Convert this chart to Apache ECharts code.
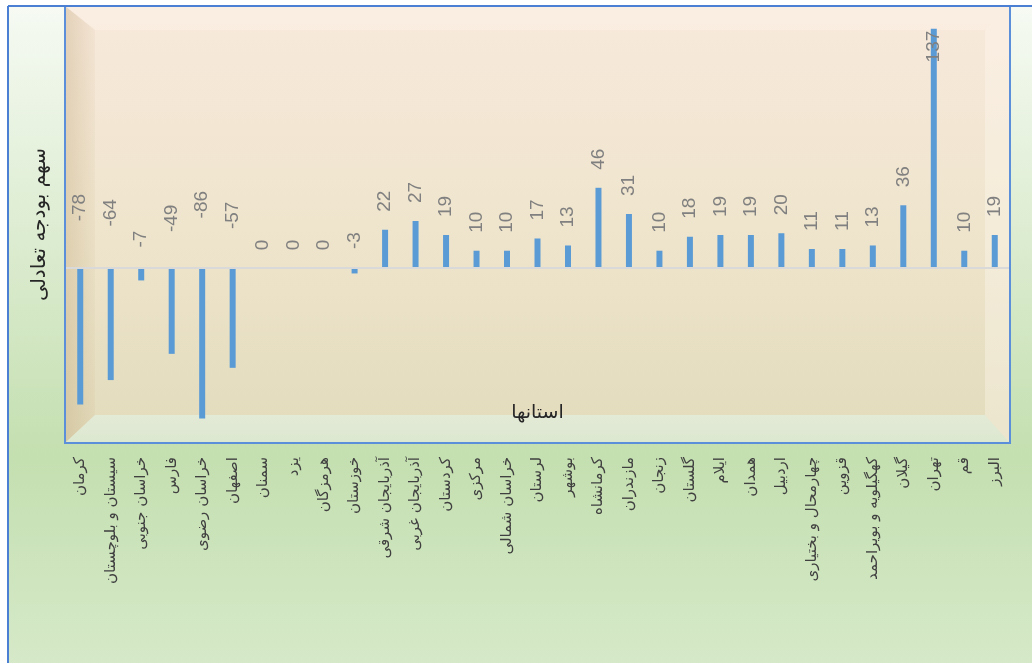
<!DOCTYPE html>
<html><head><meta charset="utf-8">
<style>html,body{margin:0;padding:0;background:#fff}#c{width:1032px;height:663px}</style>
<script src="https://cdn.jsdelivr.net/npm/echarts@6/dist/echarts.min.js"></script>
</head><body><div id="c"></div>
<script>
var categories = ['کرمان','سیستان و بلوچستان','خراسان جنوبی','فارس','خراسان رضوی','اصفهان','سمنان','یزد','هرمزگان','خوزستان','آذربایجان شرقی','آذربایجان غربی','کردستان','مرکزی','خراسان شمالی','لرستان','بوشهر','کرمانشاه','مازندران','زنجان','گلستان','ایلام','همدان','اردبیل','چهارمحال و بختیاری','قزوین','کهگیلویه و بویراحمد','گیلان','تهران','قم','البرز'];
var values = [-78,-64,-7,-49,-86,-57,0,0,0,-3,22,27,19,10,10,17,13,46,31,10,18,19,19,20,11,11,13,36,137,10,19];
var yAxisTitle = 'سهم بودجه تعادلی';
var xAxisTitle = 'استانها';

var chart = echarts.init(document.getElementById('c'), null, {renderer:'canvas'});
var L=65, R=1010, T=6, B=443;
var persian = '"DejaVu Sans", sans-serif';
var barData = values.map(function(v){
  var item = {value: v};
  if (v > 120) item.label = {position:'insideTop', align:'right', distance:2};
  else if (v < 0) item.label = {distance: 18 + 0.37 * Math.abs(v)};
  return item;
});
chart.setOption({
  animation:false,
  graphic:[
    {type:'rect', z:-20, shape:{x:8,y:6,width:1032,height:663}, style:{fill:new echarts.graphic.LinearGradient(0,0,0,1,[{offset:0,color:'#f6faf3'},{offset:0.68,color:'#c4dfb0'},{offset:1,color:'#d6e9c9'}])}},
    {type:'rect', z:-19, shape:{x:L,y:T,width:R-L,height:B-T}, style:{fill:new echarts.graphic.LinearGradient(0,0,0,1,[{offset:0,color:'#f8e9dc'},{offset:0.5,color:'#efe5cd'},{offset:1,color:'#e2dbbb'}])}},
    {type:'polygon', z:-18, shape:{points:[[L,T],[R,T],[R-25,T+24],[L+30,T+24]]}, style:{fill:'rgba(252,240,228,0.6)'}},
    {type:'polygon', z:-18, shape:{points:[[L,T],[L+30,T+24],[L+30,B-28],[L,B]]}, style:{fill:new echarts.graphic.LinearGradient(0,0,1,0,[{offset:0,color:'rgba(190,165,120,0.35)'},{offset:1,color:'rgba(190,165,120,0.08)'}])}},
    {type:'polygon', z:-18, shape:{points:[[L,B],[L+30,B-28],[R-25,B-28],[R,B]]}, style:{fill:new echarts.graphic.LinearGradient(0,0,0,1,[{offset:0,color:'#e3ead6'},{offset:1,color:'#dce8d0'}])}},
    {type:'polygon', z:-18, shape:{points:[[R,T],[R-25,T+24],[R-25,B-28],[R,B]]}, style:{fill:'rgba(255,250,240,0.35)'}},
    {type:'rect', z:30, shape:{x:L,y:T,width:R-L,height:B-T}, style:{fill:'none',stroke:'#5b8fd9',lineWidth:2}},
    {type:'line', z:30, shape:{x1:8,y1:6,x2:1032,y2:6}, style:{stroke:'#4a7fd4',lineWidth:2}},
    {type:'line', z:30, shape:{x1:8,y1:6,x2:8,y2:663}, style:{stroke:'#4a7fd4',lineWidth:2}}
  ],
  grid:{left:L, top:T, width:R-L, height:B-T, containLabel:false},
  xAxis:{
    type:'category', data:categories,
    axisLine:{show:false, onZero:false}, axisTick:{show:false},
    axisLabel:{rotate:90, interval:0, margin:14, color:'#404040', fontSize:15, fontFamily:persian},
    name:xAxisTitle, nameLocation:'middle', nameGap:-30,
    nameTextStyle:{color:'#262626', fontSize:19, fontFamily:persian, verticalAlign:'middle'}
  },
  yAxis:{
    type:'value', min:-100, max:150,
    axisLine:{show:false}, axisTick:{show:false}, axisLabel:{show:false}, splitLine:{show:false},
    name:yAxisTitle, nameLocation:'middle', nameRotate:90, nameGap:25,
    nameTextStyle:{color:'#262626', fontSize:20, fontFamily:persian, verticalAlign:'middle'}
  },
  series:[{
    type:'bar', data:barData, barWidth:6,
    itemStyle:{color:'#5b9bd5'},
    label:{show:true, position:'top', rotate:90, align:'left', verticalAlign:'middle', distance:18,
      color:'#808080', fontSize:19, fontFamily:'"Liberation Sans", Arial, sans-serif'},
    markLine:{silent:true, symbol:'none', label:{show:false},
      lineStyle:{color:'#d9d9d9', type:'solid', width:2}, data:[{yAxis:0}]}
  }]
});
</script></body></html>
